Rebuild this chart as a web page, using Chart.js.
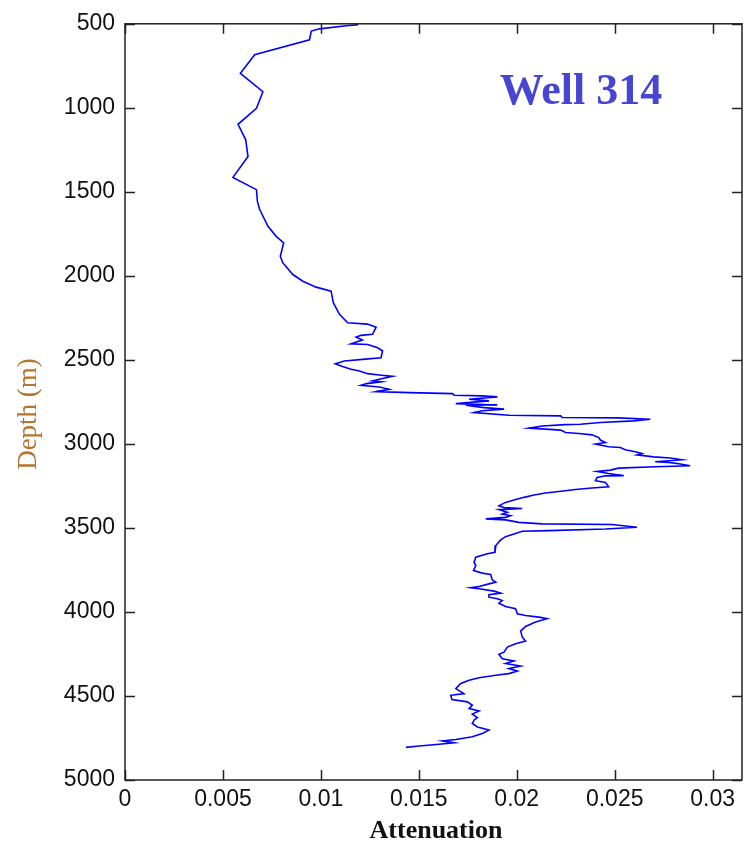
<!DOCTYPE html>
<html>
<head>
<meta charset="utf-8">
<script src="https://cdn.jsdelivr.net/npm/chart.js@4.4.0/dist/chart.umd.min.js"></script>
<style>
  html, body { margin: 0; padding: 0; background: #fff; }
</style>
</head>
<body>
<canvas id="chart" width="743" height="850"></canvas>
<script>
// Attenuation log, top to bottom
const depth = [
  505, 512, 530, 543, 595, 684, 795, 904, 1003, 1098,
  1189, 1290, 1414, 1487, 1557, 1604, 1705, 1765, 1804, 1883,
  1923, 1992, 2032, 2067, 2091, 2161, 2229, 2279, 2287, 2305,
  2348, 2354, 2364, 2382, 2404, 2408, 2428, 2447, 2487, 2497,
  2507, 2523, 2536, 2556, 2566, 2582, 2590, 2598, 2615, 2625,
  2630, 2641, 2651, 2661, 2675, 2689, 2695, 2701, 2710, 2714,
  2720, 2734, 2744, 2760, 2768, 2770, 2784, 2793, 2803, 2814,
  2829, 2833, 2843, 2845, 2853, 2863, 2873, 2883, 2885, 2893,
  2906, 2912, 2918, 2932, 2938, 2946, 2962, 2977, 2992, 3001,
  3017, 3021, 3035, 3047, 3057, 3065, 3077, 3084, 3094, 3106,
  3110, 3120, 3130, 3136, 3144, 3156, 3164, 3176, 3189, 3190,
  3200, 3219, 3229, 3255, 3262, 3271, 3283, 3292, 3304, 3318,
  3334, 3348, 3368, 3378, 3384, 3391, 3407, 3417, 3427, 3437,
  3446, 3452, 3467, 3476, 3480, 3496, 3506, 3516, 3520, 3536,
  3552, 3571, 3605, 3645, 3654, 3674, 3704, 3724, 3753, 3769,
  3777, 3809, 3823, 3833, 3849, 3856, 3862, 3876, 3888, 3898,
  3912, 3921, 3932, 3948, 3967, 3981, 4011, 4021, 4031, 4040,
  4060, 4086, 4114, 4149, 4173, 4189, 4209, 4239, 4252, 4278,
  4292, 4307, 4322, 4337, 4351, 4367, 4377, 4391, 4407, 4426,
  4456, 4486, 4496, 4521, 4535, 4555, 4575, 4589, 4608, 4628,
  4644, 4664, 4684, 4703, 4723, 4743, 4759, 4767, 4779, 4787,
  4798, 4806
];
const attenuation = [
  0.01191, 0.01130, 0.00993, 0.00951, 0.00942, 0.00662, 0.00589, 0.00704, 0.00671, 0.00577,
  0.00616, 0.00628, 0.00551, 0.00671, 0.00676, 0.00687, 0.00730, 0.00772, 0.00810, 0.00793,
  0.00806, 0.00857, 0.00908, 0.00976, 0.01052, 0.01064, 0.01095, 0.01137, 0.01237, 0.01282,
  0.01264, 0.01205, 0.01180, 0.01212, 0.01154, 0.01239, 0.01290, 0.01315, 0.01307, 0.01213,
  0.01120, 0.01074, 0.01103, 0.01154, 0.01197, 0.01239, 0.01298, 0.01366, 0.01298, 0.01264,
  0.01307, 0.01234, 0.01205, 0.01298, 0.01349, 0.01282, 0.01451, 0.01672, 0.01680, 0.01824,
  0.01901, 0.01757, 0.01858, 0.01689, 0.01901, 0.01740, 0.01833, 0.01935, 0.01824, 0.01782,
  0.01960, 0.02224, 0.02232, 0.02520, 0.02682, 0.02597, 0.02427, 0.02325, 0.02249, 0.02130,
  0.02062, 0.02147, 0.02224, 0.02249, 0.02317, 0.02384, 0.02419, 0.02427, 0.02453, 0.02402,
  0.02469, 0.02529, 0.02554, 0.02605, 0.02639, 0.02614, 0.02699, 0.02784, 0.02843, 0.02707,
  0.02775, 0.02835, 0.02885, 0.02707, 0.02520, 0.02478, 0.02410, 0.02469, 0.02546, 0.02453,
  0.02410, 0.02402, 0.02453, 0.02469, 0.02384, 0.02300, 0.02215, 0.02147, 0.02088, 0.02037,
  0.01986, 0.01943, 0.01909, 0.01935, 0.02028, 0.01909, 0.01952, 0.01926, 0.01969, 0.01943,
  0.01842, 0.01943, 0.02011, 0.02130, 0.02486, 0.02614, 0.02453, 0.02164, 0.02028, 0.01986,
  0.01943, 0.01918, 0.01893, 0.01889, 0.01850, 0.01791, 0.01782, 0.01791, 0.01779, 0.01824,
  0.01867, 0.01875, 0.01893, 0.01858, 0.01808, 0.01765, 0.01808, 0.01884, 0.01918, 0.01858,
  0.01858, 0.01901, 0.01926, 0.01909, 0.01943, 0.01994, 0.02003, 0.02045, 0.02113, 0.02155,
  0.02096, 0.02045, 0.02020, 0.02028, 0.02045, 0.01994, 0.01952, 0.01935, 0.01909, 0.01926,
  0.01986, 0.01943, 0.02020, 0.01960, 0.02003, 0.01960, 0.01893, 0.01808, 0.01757, 0.01714,
  0.01689, 0.01731, 0.01663, 0.01669, 0.01748, 0.01773, 0.01757, 0.01808, 0.01773, 0.01799,
  0.01782, 0.01773, 0.01799, 0.01858, 0.01824, 0.01773, 0.01689, 0.01621, 0.01680, 0.01604,
  0.01502, 0.01434
];
const xTicks = [0, 0.005, 0.01, 0.015, 0.02, 0.025, 0.03];
const yTicks = [500, 1000, 1500, 2000, 2500, 3000, 3500, 4000, 4500, 5000];

const points = depth.map((d, i) => ({ x: attenuation[i], y: d }));

// box with inward ticks on all four sides, plus the titles
const framePlugin = {
  id: 'frame',
  afterDraw(chart) {
    const ctx = chart.ctx;
    const a = chart.chartArea;
    const x = chart.scales.x, y = chart.scales.y;
    const len = 10;
    ctx.save();
    ctx.strokeStyle = '#222';
    ctx.lineWidth = 1.5;
    ctx.strokeRect(a.left, a.top, a.right - a.left, a.bottom - a.top);
    ctx.beginPath();
    x.ticks.forEach(t => {
      const px = Math.round(x.getPixelForValue(t.value)) + 0.5;
      ctx.moveTo(px, a.bottom); ctx.lineTo(px, a.bottom - len);
      ctx.moveTo(px, a.top); ctx.lineTo(px, a.top + len);
    });
    y.ticks.forEach(t => {
      const py = Math.round(y.getPixelForValue(t.value)) + 0.5;
      ctx.moveTo(a.left, py); ctx.lineTo(a.left + len, py);
      ctx.moveTo(a.right, py); ctx.lineTo(a.right - len, py);
    });
    ctx.stroke();

    ctx.textAlign = 'center';
    ctx.textBaseline = 'middle';
    ctx.fillStyle = '#111';
    ctx.font = 'bold 26px "Liberation Serif", serif';
    ctx.fillText('Attenuation', 436, 831);

    ctx.save();
    ctx.translate(29, 414);
    ctx.rotate(-Math.PI / 2);
    ctx.fillStyle = '#b5742f';
    ctx.font = '27px "Liberation Serif", serif';
    ctx.fillText('Depth (m)', 0, 0);
    ctx.restore();

    ctx.fillStyle = '#4646d2';
    ctx.font = 'bold 44px "Liberation Serif", serif';
    ctx.textBaseline = 'alphabetic';
    ctx.fillText('Well 314', 581, 104);
    ctx.restore();
  }
};

new Chart(document.getElementById('chart').getContext('2d'), {
  type: 'scatter',
  data: {
    datasets: [{
      data: points,
      showLine: true,
      borderColor: '#0000ff',
      borderWidth: 1.6,
      pointRadius: 0,
      fill: false,
      tension: 0
    }]
  },
  options: {
    responsive: false,
    animation: false,
    events: [],
    layout: { padding: { top: 22, right: 1, left: 0, bottom: 0 } },
    plugins: { legend: { display: false }, tooltip: { enabled: false } },
    scales: {
      x: {
        type: 'linear',
        min: 0,
        max: 0.0315,
        afterBuildTicks: s => { s.ticks = xTicks.map(v => ({ value: v })); },
        afterFit: s => { s.height = 70; },
        grid: { display: false, drawTicks: false },
        border: { display: false },
        ticks: {
          padding: 6,
          color: '#111',
          font: { family: '"Liberation Sans", Arial, sans-serif', size: 23 },
          callback: v => String(v),
          maxRotation: 0,
          autoSkip: false
        }
      },
      y: {
        type: 'linear',
        reverse: true,
        min: 500,
        max: 5000,
        afterBuildTicks: s => { s.ticks = yTicks.map(v => ({ value: v })); },
        afterFit: s => { s.width = 125; },
        grid: { display: false, drawTicks: false },
        border: { display: false },
        ticks: {
          padding: 10,
          color: '#111',
          font: { family: '"Liberation Sans", Arial, sans-serif', size: 23 },
          callback: v => String(v),
          autoSkip: false
        }
      }
    }
  },
  plugins: [framePlugin]
});
</script>
</body>
</html>
